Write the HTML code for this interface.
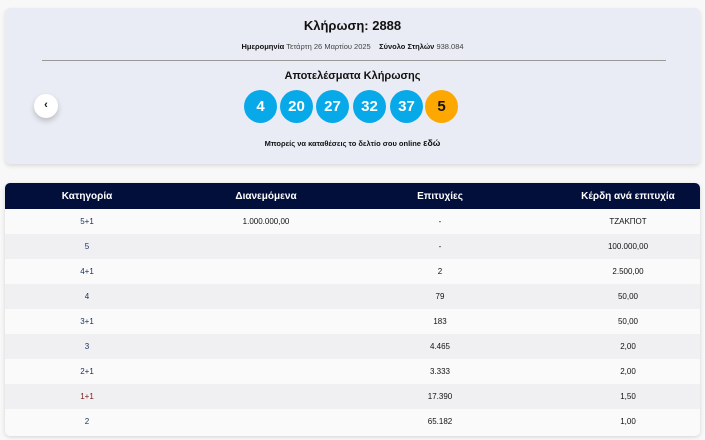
<!DOCTYPE html>
<html><head><meta charset="utf-8"><style>
*{margin:0;padding:0;box-sizing:border-box}
body{width:705px;height:440px;background:#f8f8f8;font-family:"Liberation Sans","Noto Sans CJK SC",sans-serif;position:relative;overflow:hidden;color:#111}
.card{position:absolute;left:5px;top:8px;width:695px;height:156px;background:#e9ecf4;border-radius:5px;box-shadow:0 2px 4px rgba(0,0,0,.12)}
.t{position:absolute;left:0;width:100%;text-align:center}
.ball{position:absolute;top:82px;width:33px;height:33px;border-radius:50%;background:#07a9e9;color:#fff;font-weight:bold;font-size:15px;text-align:center;line-height:33px}
.tbl{position:absolute;left:5px;top:183px;width:695px;height:253px;border-radius:5px;overflow:hidden;box-shadow:0 1px 4px rgba(0,0,0,.15);background:#fafafa}
.row{position:absolute;left:0;width:100%;height:25px;font-size:8px;line-height:25px}
.row span{position:absolute;transform:translateX(-50%);white-space:nowrap}
.hd{background:#020f3a;color:#fff;font-weight:bold;font-size:10px;height:26px;line-height:28px;top:0}
.c1{color:#14305e}
</style></head><body>
<div class="card">
<div class="t" style="top:10px;font-size:13px;font-weight:bold">Κλήρωση: 2888</div>
<div class="t" style="top:34px;font-size:7.5px"><b>Ημερομηνία</b> <span style="color:#444">Τετάρτη 26 Μαρτίου 2025</span> &nbsp;&nbsp; <b>Σύνολο Στηλών</b> <span style="color:#444">938.084</span></div>
<div style="position:absolute;left:37px;top:52px;width:624px;height:1px;background:#999"></div>
<div class="t" style="top:62px;font-size:11px;font-weight:bold">Αποτελέσματα Κλήρωσης</div>
<div style="position:absolute;left:29px;top:86px;width:24px;height:24px;border-radius:50%;background:#fff;box-shadow:0 3px 6px rgba(0,0,0,.2);text-align:center;line-height:23px;font-size:11px;font-weight:bold">‹</div>
<div class="ball" style="left:239px">4</div>
<div class="ball" style="left:275px">20</div>
<div class="ball" style="left:311px">27</div>
<div class="ball" style="left:348px">32</div>
<div class="ball" style="left:385px">37</div>
<div class="ball" style="left:420px;background:#fca800;color:#111">5</div>
<div class="t" style="top:130px;font-size:7.5px;font-weight:bold">Μπορείς να καταθέσεις το δελτίο σου online <span style="font-size:9px">εδώ</span></div>
</div>
<div class="tbl">
<div class="row hd"><span style="left:82px">Κατηγορία</span><span style="left:261px">Διανεμόμενα</span><span style="left:435px">Επιτυχίες</span><span style="left:623px">Κέρδη ανά επιτυχία</span></div>
<div class="row" style="top:26px;background:#fafafa"><span class="c1" style="left:82px">5+1</span><span style="left:261px">1.000.000,00</span><span style="left:435px">-</span><span style="left:623px">ΤΖΑΚΠΟΤ</span></div>
<div class="row" style="top:51px;background:#f0f0f3"><span class="c1" style="left:82px">5</span><span style="left:435px">-</span><span style="left:623px">100.000,00</span></div>
<div class="row" style="top:76px;background:#fafafa"><span class="c1" style="left:82px">4+1</span><span style="left:435px">2</span><span style="left:623px">2.500,00</span></div>
<div class="row" style="top:101px;background:#f0f0f3"><span class="c1" style="left:82px">4</span><span style="left:435px">79</span><span style="left:623px">50,00</span></div>
<div class="row" style="top:126px;background:#fafafa"><span class="c1" style="left:82px">3+1</span><span style="left:435px">183</span><span style="left:623px">50,00</span></div>
<div class="row" style="top:151px;background:#f0f0f3"><span class="c1" style="left:82px">3</span><span style="left:435px">4.465</span><span style="left:623px">2,00</span></div>
<div class="row" style="top:176px;background:#fafafa"><span class="c1" style="left:82px">2+1</span><span style="left:435px">3.333</span><span style="left:623px">2,00</span></div>
<div class="row" style="top:201px;background:#f0f0f3"><span class="c1" style="left:82px;color:#7a2020">1+1</span><span style="left:435px">17.390</span><span style="left:623px">1,50</span></div>
<div class="row" style="top:226px;background:#fafafa"><span class="c1" style="left:82px">2</span><span style="left:435px">65.182</span><span style="left:623px">1,00</span></div>
</div>
</body></html>
